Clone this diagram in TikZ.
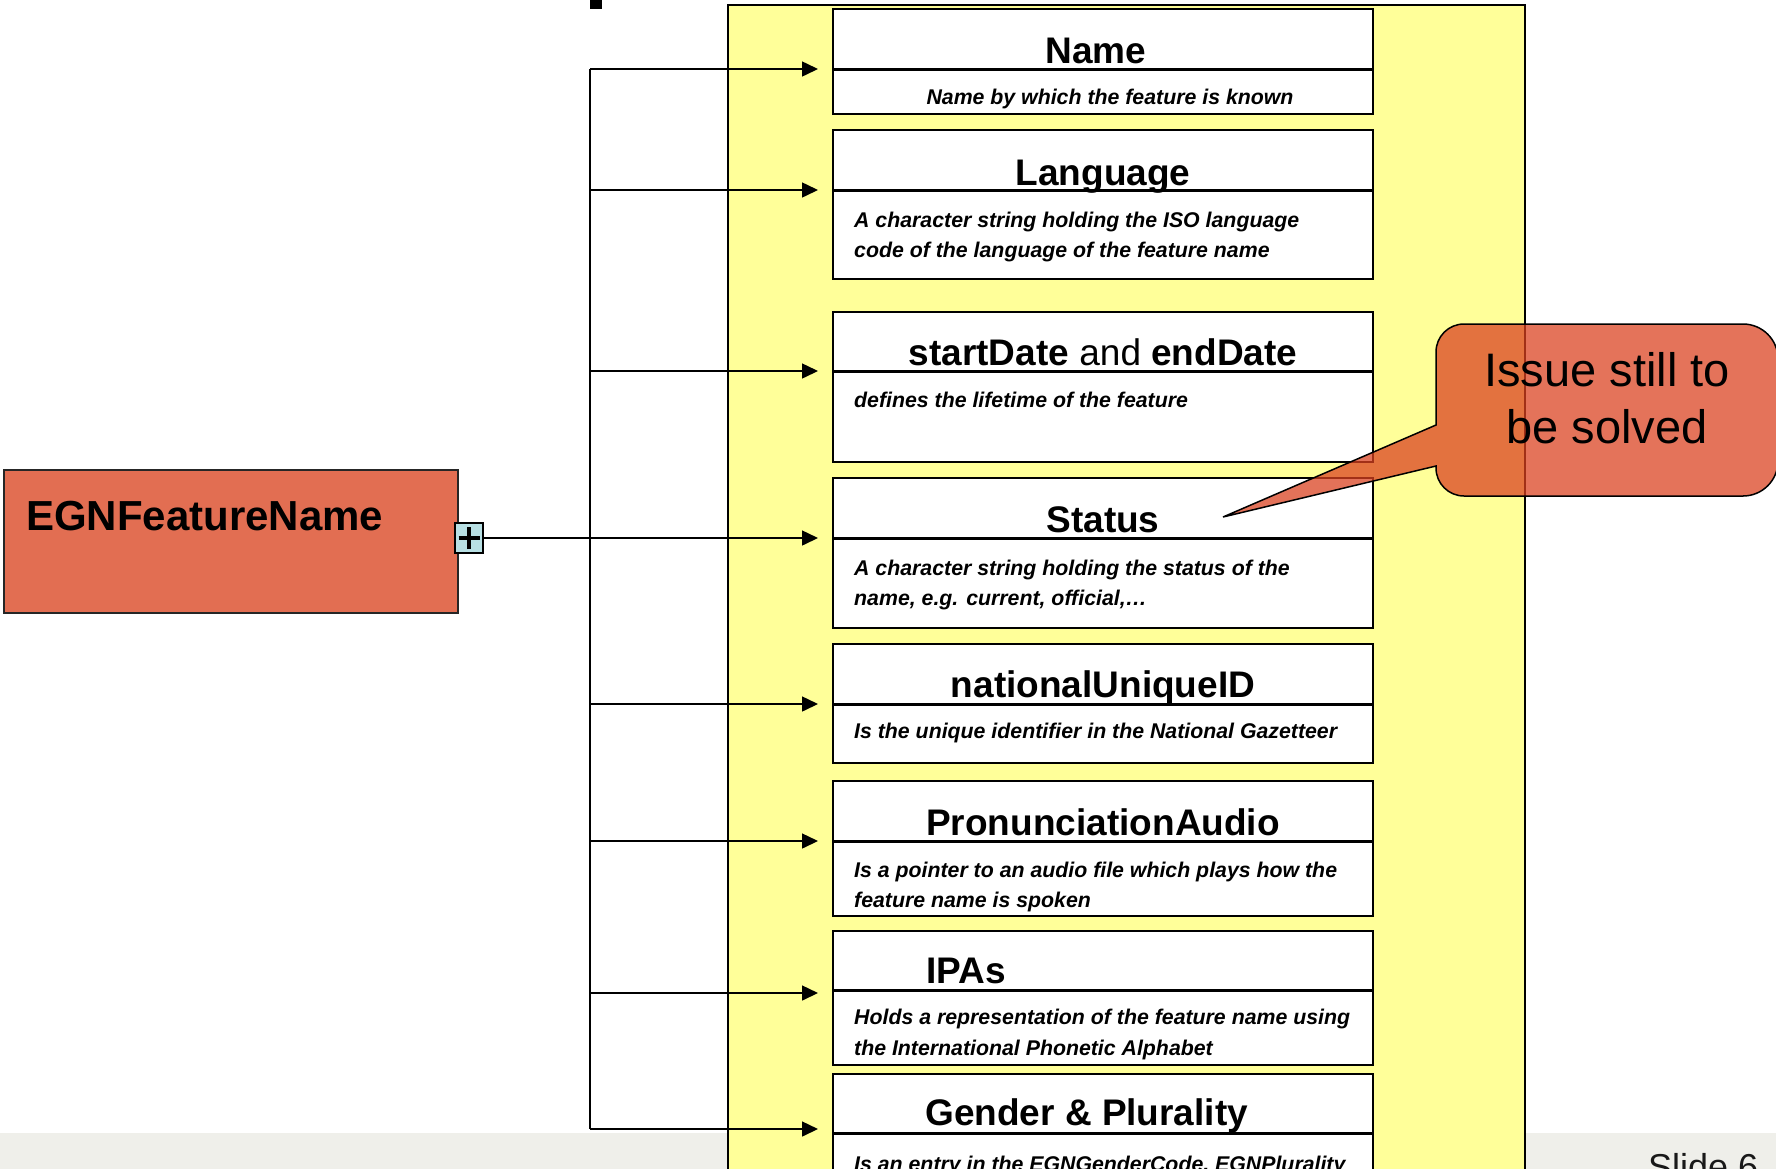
\documentclass[tikz,border=0pt]{standalone}
\usepackage{fontspec}
\setmainfont{Liberation Sans}
\usetikzlibrary{arrows.meta}
\definecolor{panelyellow}{HTML}{FFFF99}
\definecolor{bandgrey}{HTML}{EFEFEA}
\definecolor{salmon}{RGB}{226,110,82}
\definecolor{calloutred}{RGB}{218,66,32}
\definecolor{plusblue}{HTML}{B8E0E4}
\newcommand\featbox[4]{% id, top, h1, h2
  \node[compart, minimum height=#3pt, anchor=north west] (#1-t) at (833,#2) {};
  \node[compart, minimum height=#4pt, anchor=north west] (#1-d) at (#1-t.south west) {};
  \draw[divider] (#1-t.south west) -- (#1-t.south east);
}
\begin{document}
\begin{tikzpicture}[x=1pt,y=-1pt,
  compart/.style={draw=black, line width=2pt, fill=white, minimum width=540pt, inner sep=0pt, outer sep=0pt},
  divider/.style={line width=3pt, black},
  ttl/.style={font=\bfseries\fontsize{37}{40}\selectfont, inner sep=0pt},
  dsc/.style={font=\bfseries\itshape\fontsize{21.3}{30}\selectfont, inner sep=0pt, anchor=base west},
  conn/.style={line width=1.5pt, -{Triangle[length=16pt,width=15pt]}},
  plain/.style={line width=1.5pt}]
\useasboundingbox (0,0) rectangle (1776,1168);
\clip (0,0) rectangle (1776,1168);
% bottom band
\fill[bandgrey] (0,1133) rectangle (1776,1190);
% title fragment
\fill[black] (590,0) rectangle (602,9);
% yellow panel
\node[draw=black, line width=1.5pt, fill=panelyellow, minimum width=797pt, minimum height=1200pt, anchor=north west, inner sep=0pt] (panel) at (727,4) {};
% feature boxes
\featbox{name}{9}{60}{45}
\featbox{lang}{130}{60}{89}
\featbox{date}{311.5}{59.5}{90.5}
\featbox{status}{478}{60}{89.5}
\featbox{nuid}{644}{60}{59}
\featbox{pron}{781}{60}{75}
\featbox{ipa}{931}{59}{75}
\featbox{gender}{1074}{59.5}{140}
% titles
\node[ttl, anchor=base] (name-title) at (1096,63) {Name};
\node[ttl, anchor=base] (lang-title) at (1103,185) {Language};
\node[ttl, anchor=base] (date-title) at (1103,365) {startDate \mdseries and \bfseries endDate};
\node[ttl, anchor=base] (status-title) at (1103,532) {Status};
\node[ttl, anchor=base] (nuid-title) at (1103,697) {nationalUniqueID};
\node[ttl, anchor=base] (pron-title) at (1103,835) {PronunciationAudio};
\node[ttl, anchor=base west] (ipa-title) at (926,983) {IPAs};
\node[ttl, anchor=base west] (gender-title) at (925,1125) {Gender \& Plurality};
% descriptions
\node[dsc, anchor=base] (name-desc) at (1110,104) {Name by which the feature is known};
\node[dsc] (lang-desc1) at (854,227) {A character string holding the ISO language};
\node[dsc] (lang-desc2) at (854,257) {code of the language of the feature name};
\node[dsc] (date-desc) at (854,407) {defines the lifetime of the feature};
\node[dsc] (status-desc1) at (854,575) {A character string holding the status of the};
\node[dsc] (status-desc2) at (854,605) {name, e.g. current, official,\ldots};
\node[dsc] (nuid-desc) at (854,738) {Is the unique identifier in the National Gazetteer};
\node[dsc] (pron-desc1) at (854,877) {Is a pointer to an audio file which plays how the};
\node[dsc] (pron-desc2) at (854,907) {feature name is spoken};
\node[dsc] (ipa-desc1) at (854,1024) {Holds a representation of the feature name using};
\node[dsc] (ipa-desc2) at (854,1055) {the International Phonetic Alphabet};
\node[dsc] (gender-desc) at (854,1171) {Is an entry in the EGNGenderCode, EGNPlurality};
% EGNFeatureName box
\node[draw={black!85}, line width=2pt, fill=salmon, minimum width=454pt, minimum height=143pt, anchor=north west, inner sep=0pt] (egn) at (3,469) {};
\node[font=\bfseries\fontsize{42}{46}\selectfont, anchor=base west, inner sep=0pt] (egn-label) at (26,530) {EGNFeatureName};
\node[draw=black, line width=1.5pt, fill=plusblue, minimum width=28pt, minimum height=30pt, inner sep=0pt] (plus) at (469,538) {};
\draw[line width=3.5pt] ([xshift=-10.5pt]plus.center) -- ([xshift=10.5pt]plus.center);
\draw[line width=3.5pt] ([yshift=-11pt]plus.center) -- ([yshift=11pt]plus.center);
% connectors
\coordinate (sp1) at (590,69);
\coordinate (sp2) at (590,190);
\coordinate (sp3) at (590,371);
\coordinate (sp5) at (590,704);
\coordinate (sp6) at (590,841);
\coordinate (sp7) at (590,993);
\coordinate (sp8) at (590,1129);
\draw[plain] (sp1) -- (sp8);
\draw[conn] (sp1) -- ([xshift=-15pt]name-t.south west);
\draw[conn] (sp2) -- ([xshift=-15pt]lang-t.south west);
\draw[conn] (sp3) -- ([xshift=-15pt]date-t.south west);
\draw[conn] (plus.east) -- ([xshift=-15pt]status-t.south west);
\draw[conn] (sp5) -- ([xshift=-15pt]nuid-t.south west);
\draw[conn] (sp6) -- ([xshift=-15pt]pron-t.south west);
\draw[conn] (sp7) -- ([xshift=-15pt,yshift=-3pt]ipa-t.south west);
\draw[conn] (sp8) -- ([xshift=-15pt,yshift=4.5pt]gender-t.south west);
% callout
\draw[line width=1.5pt, fill=calloutred, fill opacity=0.74]
  (1436,425) -- (1436,352) .. controls (1436,336.5) and (1448.5,324) .. (1464,324)
  -- (1743,324) .. controls (1762.3,324) and (1778,339.7) .. (1778,359)
  -- (1778,461) .. controls (1778,480.3) and (1762.3,496) .. (1743,496)
  -- (1464,496) .. controls (1448.5,496) and (1436,483.5) .. (1436,468)
  -- (1436,466) -- (1223,517) -- cycle;
\node[font=\fontsize{47}{57}\selectfont, anchor=base, inner sep=0pt] (callout-text1) at (1607,386) {Issue still to};
\node[font=\fontsize{47}{57}\selectfont, anchor=base, inner sep=0pt] (callout-text2) at (1607,443) {be solved};
% slide number
\node[font=\fontsize{36}{40}\selectfont, anchor=base west, inner sep=0pt, text=black!90] (slide) at (1648,1179) {Slide 6};
\end{tikzpicture}
\end{document}
